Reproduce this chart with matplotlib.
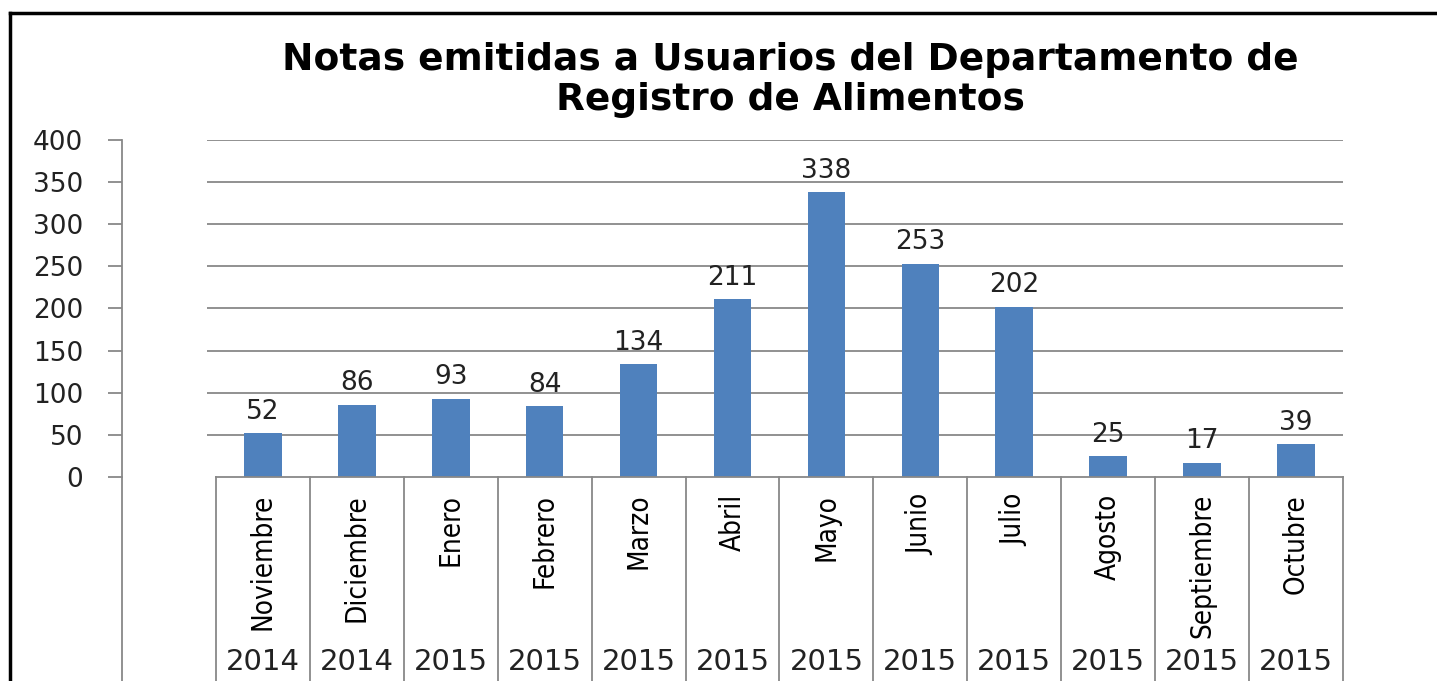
import matplotlib
matplotlib.use("Agg")
import matplotlib.pyplot as plt
from matplotlib.lines import Line2D

meses = ['Noviembre', 'Diciembre', 'Enero', 'Febrero', 'Marzo', 'Abril',
         'Mayo', 'Junio', 'Julio', 'Agosto', 'Septiembre', 'Octubre']
anios = ['2014', '2014', '2015', '2015', '2015', '2015',
         '2015', '2015', '2015', '2015', '2015', '2015']
notas = [52, 86, 93, 84, 134, 211, 338, 253, 202, 25, 17, 39]

azul = '#4F81BD'
gris = '#888888'

fig = plt.figure(figsize=(14.37, 6.81), dpi=100)
ax = fig.add_axes([0.0849, 0.2996, 0.8497, 0.4949])

x = list(range(len(meses)))
ax.bar(x, notas, width=0.4, color=azul, zorder=3)

for xi, v in zip(x, notas):
    ax.annotate(str(v), (xi, v), xytext=(0, 6), textcoords='offset points',
                ha='center', va='bottom', fontsize=19, color='#222222')

ax.set_xlim(-1.5, len(meses) - 0.5)
ax.set_ylim(0, 400)
ax.set_yticks(range(0, 401, 50))
ax.tick_params(axis='y', length=10, width=1.3, color=gris, pad=18,
               labelsize=19, labelcolor='#222222')
ax.set_xticks([])
for s in ['top', 'right', 'bottom']:
    ax.spines[s].set_visible(False)
ax.spines['left'].set_color(gris)
ax.spines['left'].set_linewidth(1.3)

# lineas de cuadricula (empiezan antes de la primera categoria)
ax.hlines(range(50, 401, 50), -0.6, len(meses) - 0.5, color=gris, lw=1.3, zorder=1)

# eje y hasta el borde inferior
tx = ax.get_xaxis_transform()
ax.plot([-1.5, -1.5], [0, -0.62], transform=tx, color=gris, lw=1.3, clip_on=False)

# cajas de categorias
ax.plot([-0.5, len(meses) - 0.5], [0, 0], transform=tx, color=gris, lw=1.3,
        clip_on=False, zorder=4)
for i in range(len(meses) + 1):
    ax.plot([i - 0.5, i - 0.5], [0, -0.62], transform=tx, color=gris, lw=1.3,
            clip_on=False)

for xi, m, a in zip(x, meses, anios):
    ax.text(xi, -0.05, m, transform=tx, rotation=90, ha='center', va='top',
            fontsize=20, family='DejaVu Sans', fontstretch='condensed')
    ax.text(xi, -0.55, a, transform=tx, ha='center', va='center',
            fontsize=21, color='#222222')

fig.text(0.55, 0.912, 'Notas emitidas a Usuarios del Departamento de',
         ha='center', va='center', fontsize=27, fontweight='bold')
fig.text(0.55, 0.853, 'Registro de Alimentos',
         ha='center', va='center', fontsize=27, fontweight='bold')

# marco exterior (arriba e izquierda)
fig.add_artist(Line2D([10 / 1437, 1], [1 - 13 / 681, 1 - 13 / 681],
                      transform=fig.transFigure, color='black', lw=2.5))
fig.add_artist(Line2D([10 / 1437, 10 / 1437], [0, 1 - 13 / 681],
                      transform=fig.transFigure, color='black', lw=2.5))

fig.savefig('out.png', dpi=100)
